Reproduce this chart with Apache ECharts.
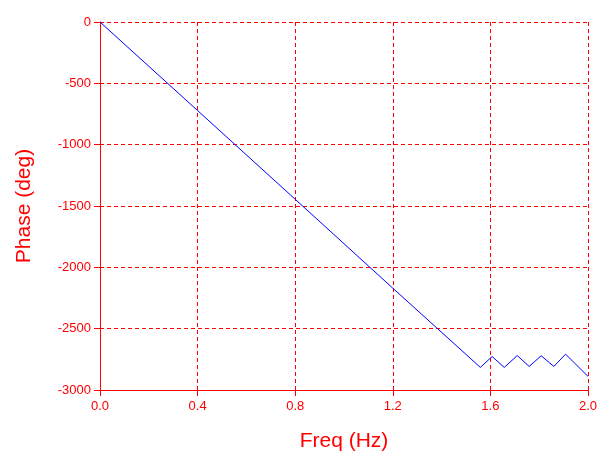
<!DOCTYPE html>
<html>
<head>
<meta charset="utf-8">
<script src="https://cdn.jsdelivr.net/npm/echarts@6/dist/echarts.min.js"></script>
<style>html,body{margin:0;padding:0;background:#fff}#c{width:602px;height:457px}</style>
</head>
<body>
<div id="c"></div>
<script>
var freqHz = [0, 0.4, 0.8, 1.2, 1.559, 1.607, 1.657, 1.710, 1.759, 1.808, 1.860, 1.908, 2.0];
var phaseDeg = [0, -722, -1445, -2170, -2816, -2727, -2816, -2719, -2808, -2721, -2808, -2708, -2889];
var xTitle = 'Freq (Hz)';
var yTitle = 'Phase (deg)';

var chart = echarts.init(document.getElementById('c'));
var red = '#ff0000';
var ff = 'Liberation Sans, Arial, sans-serif';
chart.setOption({
  animation: false,
  backgroundColor: '#ffffff',
  grid: {left: 100, right: 14, top: 22, bottom: 65, containLabel: false},
  xAxis: {
    type: 'value', min: 0, max: 2, interval: 0.4,
    name: xTitle, nameLocation: 'middle', nameGap: 41,
    nameTextStyle: {color: red, fontSize: 21, fontFamily: ff},
    axisLine: {show: true, onZero: false, lineStyle: {color: red, width: 1}},
    axisTick: {show: true, length: 6, lineStyle: {color: red}},
    axisLabel: {color: red, fontSize: 13, margin: 10, fontFamily: ff,
      formatter: function (v) { return v.toFixed(1); }},
    splitLine: {show: true, lineStyle: {color: red, type: [4, 3], width: 1}}
  },
  yAxis: {
    type: 'value', min: -3000, max: 0, interval: 500,
    name: yTitle, nameLocation: 'middle', nameGap: 65, nameRotate: 90,
    nameTextStyle: {color: red, fontSize: 21, fontFamily: ff},
    axisLine: {show: true, onZero: false, lineStyle: {color: red, width: 1}},
    axisTick: {show: true, length: 6, lineStyle: {color: red}},
    axisLabel: {color: red, fontSize: 13, margin: 9, fontFamily: ff,
      formatter: function (v) { return String(v); }},
    splitLine: {show: true, lineStyle: {color: red, type: [4, 3], width: 1}}
  },
  series: [{
    type: 'line',
    data: freqHz.map(function (f, i) { return [f, phaseDeg[i]]; }),
    showSymbol: false,
    lineStyle: {color: '#0000ff', width: 1},
    itemStyle: {color: '#0000ff'}
  }]
});
</script>
</body>
</html>
